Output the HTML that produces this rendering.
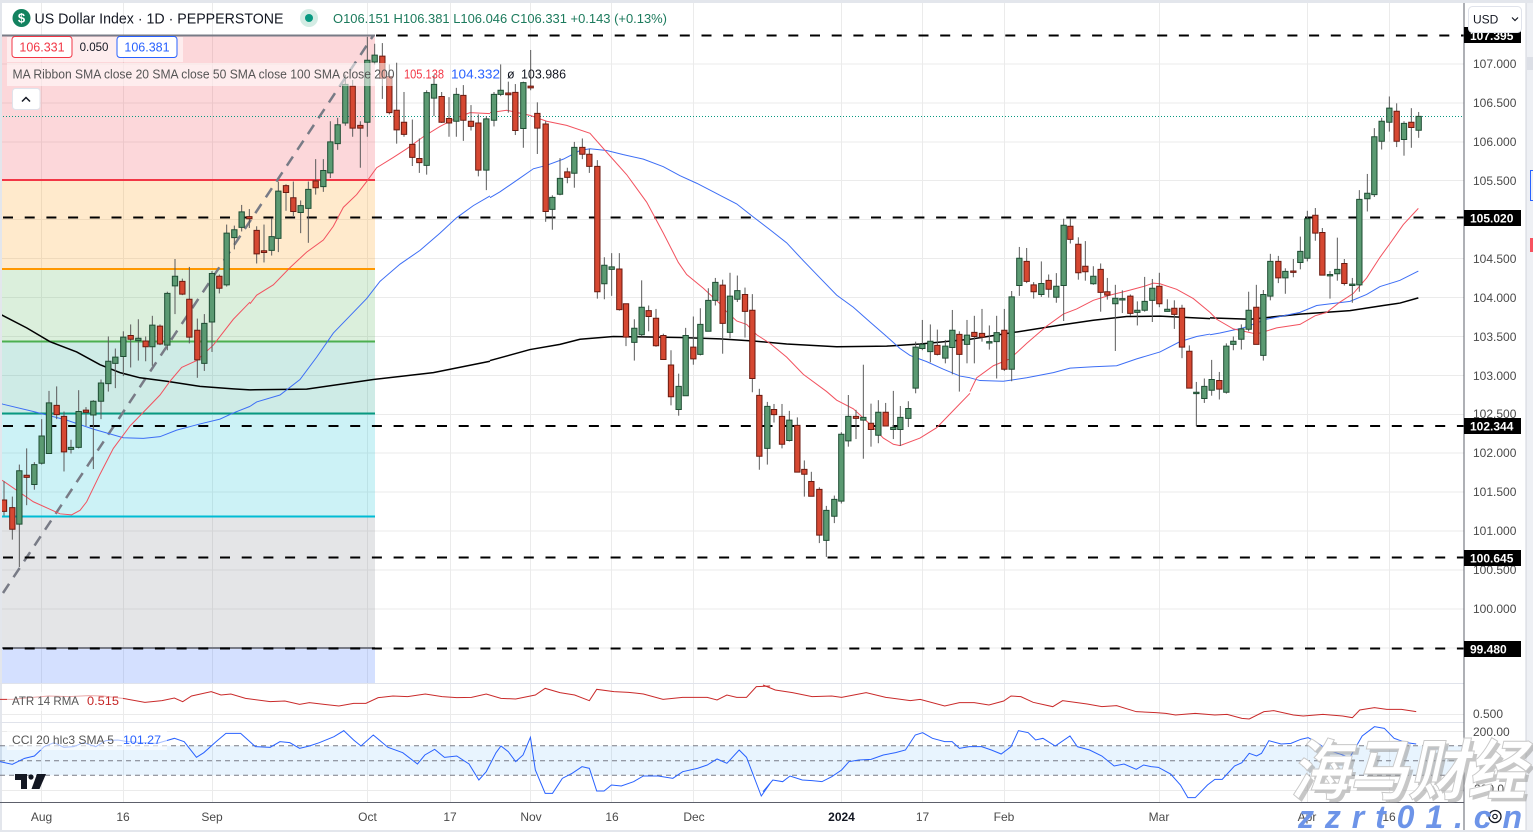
<!DOCTYPE html>
<html><head><meta charset="utf-8">
<style>
html,body{margin:0;padding:0;background:#fff;}
svg{display:block;font-family:"Liberation Sans","Noto Sans CJK SC",sans-serif;}
.w{stroke:#5a5a5a;stroke-width:1;vector-effect:non-scaling-stroke;}
.g{fill:#5b9a72;stroke:#1e4d33;stroke-width:1;vector-effect:non-scaling-stroke;}
.r{fill:#d64832;stroke:#6b1a10;stroke-width:1;vector-effect:non-scaling-stroke;}
.ma{fill:none;vector-effect:non-scaling-stroke;}
.ax{font-size:12px;fill:#4a4a4a;}
.tg{font-size:12px;fill:#fff;font-weight:bold;}
</style></head>
<body>
<svg width="1533" height="832" viewBox="0 0 1533 832" xmlns="http://www.w3.org/2000/svg">
<rect width="1533" height="832" fill="#fff"/>
<!-- grid -->
<g stroke="#ebebeb" stroke-width="1">
<line x1="0" y1="64" x2="1464" y2="64"/><line x1="0" y1="103" x2="1464" y2="103"/><line x1="0" y1="142" x2="1464" y2="142"/><line x1="0" y1="180.5" x2="1464" y2="180.5"/><line x1="0" y1="219.5" x2="1464" y2="219.5"/><line x1="0" y1="258.5" x2="1464" y2="258.5"/><line x1="0" y1="297.5" x2="1464" y2="297.5"/><line x1="0" y1="336.5" x2="1464" y2="336.5"/><line x1="0" y1="375.5" x2="1464" y2="375.5"/><line x1="0" y1="414.5" x2="1464" y2="414.5"/><line x1="0" y1="453" x2="1464" y2="453"/><line x1="0" y1="492" x2="1464" y2="492"/><line x1="0" y1="531" x2="1464" y2="531"/><line x1="0" y1="570" x2="1464" y2="570"/><line x1="0" y1="609" x2="1464" y2="609"/><line x1="0" y1="648" x2="1464" y2="648"/>
<line x1="0" y1="714.5" x2="1464" y2="714.5"/><line x1="0" y1="731.5" x2="1464" y2="731.5"/><line x1="0" y1="790.5" x2="1464" y2="790.5"/>
<line x1="41.5" y1="3" x2="41.5" y2="803"/><line x1="123.5" y1="3" x2="123.5" y2="803"/><line x1="212.5" y1="3" x2="212.5" y2="803"/><line x1="367.5" y1="3" x2="367.5" y2="803"/><line x1="450.5" y1="3" x2="450.5" y2="803"/><line x1="530.5" y1="3" x2="530.5" y2="803"/><line x1="611.5" y1="3" x2="611.5" y2="803"/><line x1="693.5" y1="3" x2="693.5" y2="803"/><line x1="841.5" y1="3" x2="841.5" y2="803"/><line x1="922.5" y1="3" x2="922.5" y2="803"/><line x1="1004.5" y1="3" x2="1004.5" y2="803"/><line x1="1159.5" y1="3" x2="1159.5" y2="803"/><line x1="1307.5" y1="3" x2="1307.5" y2="803"/><line x1="1389.5" y1="3" x2="1389.5" y2="803"/>
</g>
<!-- fib fills -->
<rect x="0" y="35" width="375" height="145" fill="rgba(242,54,69,0.2)"/>
<rect x="0" y="180" width="375" height="89" fill="rgba(255,152,0,0.2)"/>
<rect x="0" y="269" width="375" height="72.5" fill="rgba(76,175,80,0.2)"/>
<rect x="0" y="341.5" width="375" height="72" fill="rgba(8,153,129,0.2)"/>
<rect x="0" y="413.5" width="375" height="103" fill="rgba(0,188,212,0.2)"/>
<rect x="0" y="516.5" width="375" height="131.5" fill="rgba(120,123,134,0.2)"/>
<rect x="0" y="648" width="375" height="35" fill="rgba(41,98,255,0.2)"/>
<!-- fib lines -->
<line x1="0" y1="180" x2="375" y2="180" stroke="#f23645" stroke-width="2"/>
<line x1="0" y1="269" x2="375" y2="269" stroke="#ff9800" stroke-width="2"/>
<line x1="0" y1="341.5" x2="375" y2="341.5" stroke="#4caf50" stroke-width="2"/>
<line x1="0" y1="413.5" x2="375" y2="413.5" stroke="#089981" stroke-width="2"/>
<line x1="0" y1="516.5" x2="375" y2="516.5" stroke="#00bcd4" stroke-width="2"/>
<line x1="0" y1="648" x2="375" y2="648" stroke="#787b86" stroke-width="2"/>
<!-- diagonal -->
<line x1="3" y1="593" x2="373" y2="36" stroke="#787b86" stroke-width="2.5" stroke-dasharray="11 8"/>
<!-- dashed levels -->
<g stroke="#000" stroke-width="2" stroke-dasharray="10 11.7">
<line x1="376" y1="35.5" x2="1464" y2="35.5"/>
<line x1="3" y1="217.5" x2="1464" y2="217.5"/>
<line x1="3" y1="426" x2="1464" y2="426"/>
<line x1="3" y1="557.5" x2="1464" y2="557.5"/>
<line x1="3" y1="648.5" x2="1464" y2="648.5"/>
</g>
<line x1="0" y1="35.5" x2="375" y2="35.5" stroke="#787b86" stroke-width="2"/>
<!-- current price -->
<line x1="0" y1="116.5" x2="1464" y2="116.5" stroke="#089981" stroke-width="1" stroke-dasharray="1 2"/>

<!-- ZOOM5 group -->
<g transform="translate(0,30) scale(0.333333,0.344353)">
<polyline class="ma" stroke="#000" stroke-width="1.5" points="0,825 10,830 80,865 150,905 230,935 300,972 360,995 420,1010 500,1020 600,1035 700,1042 750,1045"/>
<polyline class="ma" stroke="#3d6ef5" stroke-width="1" points="0,1084 10,1087 100,1108 200,1133 280,1159 370,1184 430,1186 480,1181 530,1162 600,1144 660,1130 700,1112 750,1093"/>
<polyline class="ma" stroke="#f2525f" stroke-width="1" points="0,1305 10,1310 100,1370 180,1405 215,1408 240,1395 260,1370 300,1290 340,1215 390,1150 430,1110 480,1060 510,1020 545,980 590,960 640,915 700,840 750,790"/>
<line class="w" x1="12" y1="1310" x2="12" y2="1410"/><rect class="r" x="4" y="1365" width="16" height="33"/>
<line class="w" x1="37" y1="1355" x2="37" y2="1480"/><rect class="r" x="29" y="1387" width="16" height="63"/>
<line class="w" x1="58" y1="1262" x2="58" y2="1560"/><rect class="g" x="50" y="1280" width="16" height="155"/>
<line class="w" x1="80" y1="1215" x2="80" y2="1380"/><rect class="r" x="72" y="1293" width="16" height="6"/>
<line class="w" x1="103" y1="1255" x2="103" y2="1335"/><rect class="g" x="95" y="1262" width="16" height="58"/>
<line class="w" x1="125" y1="1130" x2="125" y2="1262"/><rect class="g" x="117" y="1179" width="16" height="79"/>
<line class="w" x1="147" y1="1048" x2="147" y2="1230"/><rect class="g" x="139" y="1083" width="16" height="147"/>
<line class="w" x1="170" y1="1035" x2="170" y2="1130"/><rect class="r" x="162" y="1090" width="16" height="27"/>
<line class="w" x1="192" y1="1108" x2="192" y2="1282"/><rect class="r" x="184" y="1122" width="16" height="103"/>
<line class="w" x1="213" y1="1190" x2="213" y2="1230"/><rect class="g" x="205" y="1212" width="16" height="6"/>
<line class="w" x1="236" y1="1046" x2="236" y2="1215"/><rect class="g" x="228" y="1108" width="16" height="104"/>
<line class="w" x1="258" y1="1095" x2="258" y2="1150"/><rect class="r" x="250" y="1104" width="16" height="6"/>
<line class="w" x1="280" y1="1075" x2="280" y2="1275"/><rect class="g" x="272" y="1078" width="16" height="40"/>
<line class="w" x1="303" y1="1015" x2="303" y2="1130"/><rect class="g" x="295" y="1025" width="16" height="53"/>
<line class="w" x1="325" y1="890" x2="325" y2="1050"/><rect class="g" x="317" y="962" width="16" height="65"/>
<line class="w" x1="346" y1="925" x2="346" y2="1040"/><rect class="g" x="338" y="950" width="16" height="18"/>
<line class="w" x1="370" y1="875" x2="370" y2="1005"/><rect class="g" x="362" y="892" width="16" height="56"/>
<line class="w" x1="392" y1="855" x2="392" y2="980"/><rect class="r" x="384" y="887" width="16" height="11"/>
<line class="w" x1="415" y1="840" x2="415" y2="960"/><rect class="g" x="407" y="895" width="16" height="7"/>
<line class="w" x1="437" y1="890" x2="437" y2="962"/><rect class="r" x="429" y="903" width="16" height="17"/>
<line class="w" x1="457" y1="830" x2="457" y2="975"/><rect class="g" x="449" y="857" width="16" height="63"/>
<line class="w" x1="480" y1="855" x2="480" y2="915"/><rect class="r" x="472" y="860" width="16" height="52"/>
<line class="w" x1="502" y1="760" x2="502" y2="930"/><rect class="g" x="494" y="765" width="16" height="150"/>
<line class="w" x1="525" y1="665" x2="525" y2="825"/><rect class="g" x="517" y="715" width="16" height="28"/>
<line class="w" x1="547" y1="722" x2="547" y2="770"/><rect class="r" x="539" y="730" width="16" height="37"/>
<line class="w" x1="568" y1="688" x2="568" y2="910"/><rect class="r" x="560" y="782" width="16" height="110"/>
<line class="w" x1="592" y1="838" x2="592" y2="1010"/><rect class="r" x="584" y="872" width="16" height="86"/>
<line class="w" x1="613" y1="825" x2="613" y2="990"/><rect class="g" x="605" y="852" width="16" height="116"/>
<line class="w" x1="636" y1="700" x2="636" y2="935"/><rect class="g" x="628" y="707" width="16" height="141"/>
<line class="w" x1="658" y1="710" x2="658" y2="765"/><rect class="r" x="650" y="715" width="16" height="35"/>
<line class="w" x1="680" y1="565" x2="680" y2="745"/><rect class="g" x="672" y="590" width="16" height="150"/>
<line class="w" x1="703" y1="568" x2="703" y2="637"/><rect class="g" x="695" y="580" width="16" height="23"/>
<line class="w" x1="725" y1="508" x2="725" y2="585"/><rect class="g" x="717" y="528" width="16" height="45"/>
</g>

<!-- ZOOM6 group -->
<g transform="translate(240,30) scale(0.333333,0.344353)">
<polyline class="ma" stroke="#000" stroke-width="1.5" points="30,1045 200,1043 400,1015 580,995 750,962"/>
<polyline class="ma" stroke="#3d6ef5" stroke-width="1" points="30,1093 50,1080 120,1060 180,1015 230,950 280,880 330,830 380,780 420,730 480,680 540,640 600,590 650,545 700,510 750,482"/>
<polyline class="ma" stroke="#f2525f" stroke-width="1" points="30,795 50,770 100,740 150,690 200,645 250,610 280,570 310,515 350,478 380,440 410,400 460,370 500,345 550,310 600,280 650,255 690,240 750,243"/>
<line class="w" x1="28" y1="520" x2="28" y2="575"/><rect class="r" x="20" y="542" width="16" height="6"/>
<line class="w" x1="50" y1="570" x2="50" y2="678"/><rect class="r" x="42" y="582" width="16" height="68"/>
<line class="w" x1="72" y1="565" x2="72" y2="675"/><rect class="r" x="64" y="641" width="16" height="5"/>
<line class="w" x1="95" y1="548" x2="95" y2="655"/><rect class="g" x="87" y="600" width="16" height="40"/>
<line class="w" x1="115" y1="440" x2="115" y2="645"/><rect class="g" x="107" y="468" width="16" height="137"/>
<line class="w" x1="138" y1="448" x2="138" y2="525"/><rect class="r" x="130" y="452" width="16" height="20"/>
<line class="w" x1="160" y1="440" x2="160" y2="540"/><rect class="r" x="152" y="487" width="16" height="40"/>
<line class="w" x1="182" y1="495" x2="182" y2="590"/><rect class="g" x="174" y="510" width="16" height="20"/>
<line class="w" x1="205" y1="440" x2="205" y2="618"/><rect class="g" x="197" y="463" width="16" height="55"/>
<line class="w" x1="227" y1="375" x2="227" y2="478"/><rect class="r" x="219" y="438" width="16" height="20"/>
<line class="w" x1="250" y1="375" x2="250" y2="470"/><rect class="g" x="242" y="408" width="16" height="47"/>
<line class="w" x1="271" y1="265" x2="271" y2="430"/><rect class="g" x="263" y="325" width="16" height="90"/>
<line class="w" x1="293" y1="255" x2="293" y2="348"/><rect class="g" x="285" y="275" width="16" height="55"/>
<line class="w" x1="316" y1="130" x2="316" y2="278"/><rect class="g" x="308" y="158" width="16" height="112"/>
<line class="w" x1="338" y1="145" x2="338" y2="310"/><rect class="r" x="330" y="163" width="16" height="122"/>
<line class="w" x1="361" y1="265" x2="361" y2="400"/><rect class="r" x="353" y="277" width="16" height="8"/>
<line class="w" x1="382" y1="20" x2="382" y2="310"/><rect class="g" x="374" y="88" width="16" height="180"/>
<line class="w" x1="404" y1="40" x2="404" y2="100"/><rect class="g" x="396" y="73" width="16" height="20"/>
<line class="w" x1="427" y1="38" x2="427" y2="200"/><rect class="r" x="419" y="76" width="16" height="64"/>
<line class="w" x1="448" y1="100" x2="448" y2="245"/><rect class="r" x="440" y="135" width="16" height="105"/>
<line class="w" x1="470" y1="95" x2="470" y2="330"/><rect class="r" x="462" y="233" width="16" height="57"/>
<line class="w" x1="492" y1="180" x2="492" y2="310"/><rect class="r" x="484" y="268" width="16" height="35"/>
<line class="w" x1="517" y1="260" x2="517" y2="395"/><rect class="r" x="509" y="332" width="16" height="38"/>
<line class="w" x1="538" y1="315" x2="538" y2="415"/><rect class="r" x="530" y="373" width="16" height="12"/>
<line class="w" x1="560" y1="175" x2="560" y2="420"/><rect class="g" x="552" y="182" width="16" height="211"/>
<line class="w" x1="582" y1="130" x2="582" y2="250"/><rect class="g" x="574" y="158" width="16" height="40"/>
<line class="w" x1="605" y1="180" x2="605" y2="270"/><rect class="r" x="597" y="193" width="16" height="75"/>
<line class="w" x1="627" y1="195" x2="627" y2="310"/><rect class="r" x="619" y="257" width="16" height="13"/>
<line class="w" x1="649" y1="168" x2="649" y2="310"/><rect class="g" x="641" y="187" width="16" height="78"/>
<line class="w" x1="670" y1="160" x2="670" y2="322"/><rect class="r" x="662" y="190" width="16" height="72"/>
<line class="w" x1="693" y1="218" x2="693" y2="292"/><rect class="r" x="685" y="265" width="16" height="15"/>
<line class="w" x1="715" y1="245" x2="715" y2="425"/><rect class="r" x="707" y="270" width="16" height="137"/>
<line class="w" x1="739" y1="250" x2="739" y2="465"/><rect class="g" x="731" y="258" width="16" height="149"/>
</g>

<!-- ZOOM7 group -->
<g transform="translate(480,30) scale(0.333333,0.344353)">
<polyline class="ma" stroke="#000" stroke-width="1.5" points="30,960 150,928 240,913 300,898 400,890 600,893 720,897"/>
<polyline class="ma" stroke="#3d6ef5" stroke-width="1" points="30,487 60,470 120,430 160,403 200,393 250,375 300,350 330,345 380,350 430,362 490,375 550,397 600,423 650,445 700,470 720,480"/>
<polyline class="ma" stroke="#f2525f" stroke-width="1" points="30,240 80,233 150,248 200,265 260,277 330,300 380,355 440,420 500,500 550,590 595,675 620,710 670,750 720,795"/>
<line class="w" x1="42" y1="180" x2="42" y2="280"/><rect class="g" x="34" y="187" width="16" height="75"/>
<line class="w" x1="62" y1="100" x2="62" y2="192"/><rect class="g" x="54" y="175" width="16" height="12"/>
<line class="w" x1="85" y1="150" x2="85" y2="240"/><rect class="r" x="77" y="183" width="16" height="5"/>
<line class="w" x1="106" y1="157" x2="106" y2="305"/><rect class="r" x="98" y="181" width="16" height="111"/>
<line class="w" x1="130" y1="150" x2="130" y2="342"/><rect class="g" x="122" y="153" width="16" height="133"/>
<line class="w" x1="152" y1="58" x2="152" y2="175"/><rect class="r" x="144" y="163" width="16" height="5"/>
<line class="w" x1="172" y1="210" x2="172" y2="360"/><rect class="r" x="164" y="242" width="16" height="43"/>
<line class="w" x1="197" y1="265" x2="197" y2="557"/><rect class="r" x="189" y="273" width="16" height="254"/>
<line class="w" x1="217" y1="480" x2="217" y2="580"/><rect class="g" x="209" y="486" width="16" height="35"/>
<line class="w" x1="240" y1="372" x2="240" y2="480"/><rect class="g" x="232" y="431" width="16" height="46"/>
<line class="w" x1="262" y1="400" x2="262" y2="445"/><rect class="r" x="254" y="412" width="16" height="16"/>
<line class="w" x1="283" y1="325" x2="283" y2="458"/><rect class="g" x="275" y="341" width="16" height="75"/>
<line class="w" x1="307" y1="315" x2="307" y2="375"/><rect class="r" x="299" y="341" width="16" height="20"/>
<line class="w" x1="328" y1="345" x2="328" y2="415"/><rect class="r" x="320" y="361" width="16" height="35"/>
<line class="w" x1="352" y1="378" x2="352" y2="780"/><rect class="r" x="344" y="396" width="16" height="364"/>
<line class="w" x1="373" y1="660" x2="373" y2="782"/><rect class="g" x="365" y="683" width="16" height="54"/>
<line class="w" x1="395" y1="648" x2="395" y2="772"/><rect class="g" x="387" y="688" width="16" height="7"/>
<line class="w" x1="418" y1="648" x2="418" y2="815"/><rect class="r" x="410" y="694" width="16" height="118"/>
<line class="w" x1="438" y1="795" x2="438" y2="918"/><rect class="r" x="430" y="795" width="16" height="97"/>
<line class="w" x1="463" y1="840" x2="463" y2="960"/><rect class="g" x="455" y="866" width="16" height="41"/>
<line class="w" x1="485" y1="727" x2="485" y2="890"/><rect class="g" x="477" y="805" width="16" height="80"/>
<line class="w" x1="506" y1="800" x2="506" y2="875"/><rect class="r" x="498" y="815" width="16" height="17"/>
<line class="w" x1="528" y1="810" x2="528" y2="920"/><rect class="r" x="520" y="837" width="16" height="80"/>
<line class="w" x1="550" y1="882" x2="550" y2="957"/><rect class="r" x="542" y="887" width="16" height="70"/>
<line class="w" x1="573" y1="930" x2="573" y2="1090"/><rect class="r" x="565" y="973" width="16" height="92"/>
<line class="w" x1="596" y1="998" x2="596" y2="1120"/><rect class="g" x="588" y="1035" width="16" height="67"/>
<line class="w" x1="617" y1="865" x2="617" y2="1062"/><rect class="g" x="609" y="887" width="16" height="175"/>
<line class="w" x1="640" y1="832" x2="640" y2="972"/><rect class="r" x="632" y="921" width="16" height="34"/>
<line class="w" x1="661" y1="808" x2="661" y2="945"/><rect class="g" x="653" y="855" width="16" height="87"/>
<line class="w" x1="685" y1="750" x2="685" y2="875"/><rect class="g" x="677" y="785" width="16" height="90"/>
<line class="w" x1="706" y1="720" x2="706" y2="800"/><rect class="g" x="698" y="733" width="16" height="52"/>
</g>

<!-- ZOOM8 group -->
<g transform="translate(720,30) scale(0.333333,0.344353)">
<polyline class="ma" stroke="#000" stroke-width="1.5" points="0,897 100,903 200,912 350,920 500,918 600,912 750,898"/>
<polyline class="ma" stroke="#3d6ef5" stroke-width="1" points="0,480 50,505 100,543 150,580 200,618 250,670 300,720 350,770 400,805 450,848 500,890 540,925 570,945 620,963 670,985 720,1005 750,1010"/>
<polyline class="ma" stroke="#f2525f" stroke-width="1" points="0,800 50,845 80,855 110,885 150,910 200,950 250,1000 320,1050 350,1075 400,1100 450,1145 490,1185 520,1203 540,1207 600,1185 650,1155 700,1105 750,1055"/>
<line class="w" x1="8" y1="725" x2="8" y2="940"/><rect class="r" x="0" y="741" width="16" height="111"/>
<line class="w" x1="30" y1="705" x2="30" y2="895"/><rect class="g" x="22" y="773" width="16" height="105"/>
<line class="w" x1="52" y1="713" x2="52" y2="790"/><rect class="g" x="44" y="757" width="16" height="25"/>
<line class="w" x1="75" y1="748" x2="75" y2="893"/><rect class="r" x="67" y="768" width="16" height="49"/>
<line class="w" x1="97" y1="767" x2="97" y2="1052"/><rect class="r" x="89" y="814" width="16" height="198"/>
<line class="w" x1="118" y1="1042" x2="118" y2="1277"/><rect class="r" x="110" y="1061" width="16" height="177"/>
<line class="w" x1="142" y1="1080" x2="142" y2="1262"/><rect class="g" x="134" y="1093" width="16" height="122"/>
<line class="w" x1="162" y1="1086" x2="162" y2="1140"/><rect class="r" x="154" y="1102" width="16" height="15"/>
<line class="w" x1="186" y1="1086" x2="186" y2="1215"/><rect class="r" x="178" y="1122" width="16" height="81"/>
<line class="w" x1="208" y1="1106" x2="208" y2="1195"/><rect class="g" x="200" y="1133" width="16" height="59"/>
<line class="w" x1="232" y1="1125" x2="232" y2="1284"/><rect class="r" x="224" y="1148" width="16" height="136"/>
<line class="w" x1="253" y1="1250" x2="253" y2="1355"/><rect class="r" x="245" y="1276" width="16" height="14"/>
<line class="w" x1="274" y1="1283" x2="274" y2="1354"/><rect class="r" x="266" y="1311" width="16" height="43"/>
<line class="w" x1="298" y1="1328" x2="298" y2="1490"/><rect class="r" x="290" y="1334" width="16" height="133"/>
<line class="w" x1="319" y1="1382" x2="319" y2="1530"/><rect class="g" x="311" y="1395" width="16" height="87"/>
<line class="w" x1="343" y1="1352" x2="343" y2="1432"/><rect class="g" x="335" y="1363" width="16" height="49"/>
<line class="w" x1="364" y1="1168" x2="364" y2="1375"/><rect class="g" x="356" y="1174" width="16" height="194"/>
<line class="w" x1="385" y1="1060" x2="385" y2="1210"/><rect class="g" x="377" y="1122" width="16" height="71"/>
<line class="w" x1="408" y1="1103" x2="408" y2="1188"/><rect class="r" x="400" y="1122" width="16" height="6"/>
<line class="w" x1="430" y1="972" x2="430" y2="1245"/><rect class="g" x="422" y="1125" width="16" height="8"/>
<line class="w" x1="453" y1="1085" x2="453" y2="1210"/><rect class="r" x="445" y="1142" width="16" height="18"/>
<line class="w" x1="475" y1="1075" x2="475" y2="1200"/><rect class="g" x="467" y="1110" width="16" height="67"/>
<line class="w" x1="497" y1="1083" x2="497" y2="1150"/><rect class="r" x="489" y="1110" width="16" height="40"/>
<line class="w" x1="520" y1="1048" x2="520" y2="1188"/><rect class="g" x="512" y="1154" width="16" height="6"/>
<line class="w" x1="541" y1="1092" x2="541" y2="1208"/><rect class="g" x="533" y="1125" width="16" height="35"/>
<line class="w" x1="565" y1="1078" x2="565" y2="1153"/><rect class="g" x="557" y="1099" width="16" height="29"/>
<line class="w" x1="587" y1="905" x2="587" y2="1055"/><rect class="g" x="579" y="921" width="16" height="119"/>
<line class="w" x1="607" y1="842" x2="607" y2="930"/><rect class="g" x="599" y="913" width="16" height="12"/>
<line class="w" x1="631" y1="855" x2="631" y2="965"/><rect class="g" x="623" y="904" width="16" height="30"/>
<line class="w" x1="652" y1="870" x2="652" y2="945"/><rect class="r" x="644" y="916" width="16" height="26"/>
<line class="w" x1="676" y1="900" x2="676" y2="968"/><rect class="g" x="668" y="918" width="16" height="35"/>
<line class="w" x1="697" y1="813" x2="697" y2="1000"/><rect class="g" x="689" y="872" width="16" height="50"/>
<line class="w" x1="718" y1="875" x2="718" y2="1050"/><rect class="r" x="710" y="884" width="16" height="58"/>
<line class="w" x1="741" y1="842" x2="741" y2="968"/><rect class="g" x="733" y="886" width="16" height="27"/>
</g>

<!-- ZOOM9 group -->
<g transform="translate(960,30) scale(0.333333,0.344353)">
<polyline class="ma" stroke="#000" stroke-width="1.5" points="30,898 150,880 300,857 400,843 500,832 600,831 750,838"/>
<polyline class="ma" stroke="#3d6ef5" stroke-width="1" points="30,1010 60,1018 130,1020 200,1010 280,995 330,982 400,978 470,975 530,955 600,935 660,905 710,890 750,883"/>
<polyline class="ma" stroke="#f2525f" stroke-width="1" points="30,1050 50,1010 100,975 150,955 200,910 260,860 310,825 350,810 400,785 450,770 500,758 550,745 580,735 600,737 650,753 700,780 750,820"/>
<line class="w" x1="43" y1="830" x2="43" y2="968"/><rect class="r" x="35" y="878" width="16" height="12"/>
<line class="w" x1="66" y1="810" x2="66" y2="905"/><rect class="r" x="58" y="881" width="16" height="11"/>
<line class="w" x1="88" y1="858" x2="88" y2="928"/><rect class="g" x="80" y="905" width="16" height="4"/>
<line class="w" x1="110" y1="830" x2="110" y2="1012"/><rect class="g" x="102" y="879" width="16" height="26"/>
<line class="w" x1="133" y1="810" x2="133" y2="990"/><rect class="r" x="125" y="872" width="16" height="113"/>
<line class="w" x1="155" y1="758" x2="155" y2="1020"/><rect class="g" x="147" y="775" width="16" height="210"/>
<line class="w" x1="178" y1="630" x2="178" y2="772"/><rect class="g" x="170" y="663" width="16" height="79"/>
<line class="w" x1="200" y1="633" x2="200" y2="735"/><rect class="r" x="192" y="672" width="16" height="58"/>
<line class="w" x1="221" y1="732" x2="221" y2="780"/><rect class="r" x="213" y="740" width="16" height="20"/>
<line class="w" x1="244" y1="672" x2="244" y2="775"/><rect class="g" x="236" y="736" width="16" height="32"/>
<line class="w" x1="266" y1="710" x2="266" y2="777"/><rect class="r" x="258" y="727" width="16" height="26"/>
<line class="w" x1="289" y1="706" x2="289" y2="792"/><rect class="g" x="281" y="744" width="16" height="32"/>
<line class="w" x1="311" y1="548" x2="311" y2="845"/><rect class="g" x="303" y="567" width="16" height="175"/>
<line class="w" x1="331" y1="548" x2="331" y2="620"/><rect class="r" x="323" y="570" width="16" height="38"/>
<line class="w" x1="355" y1="602" x2="355" y2="725"/><rect class="r" x="347" y="622" width="16" height="83"/>
<line class="w" x1="376" y1="613" x2="376" y2="728"/><rect class="r" x="368" y="686" width="16" height="16"/>
<line class="w" x1="400" y1="686" x2="400" y2="740"/><rect class="g" x="392" y="715" width="16" height="22"/>
<line class="w" x1="422" y1="678" x2="422" y2="818"/><rect class="r" x="414" y="695" width="16" height="67"/>
<line class="w" x1="442" y1="720" x2="442" y2="783"/><rect class="r" x="434" y="760" width="16" height="10"/>
<line class="w" x1="466" y1="740" x2="466" y2="932"/><rect class="g" x="458" y="779" width="16" height="16"/>
<line class="w" x1="487" y1="756" x2="487" y2="822"/><rect class="g" x="479" y="780" width="16" height="4"/>
<line class="w" x1="511" y1="768" x2="511" y2="830"/><rect class="r" x="503" y="773" width="16" height="50"/>
<line class="w" x1="532" y1="788" x2="532" y2="858"/><rect class="g" x="524" y="814" width="16" height="6"/>
<line class="w" x1="554" y1="717" x2="554" y2="818"/><rect class="g" x="546" y="788" width="16" height="26"/>
<line class="w" x1="577" y1="723" x2="577" y2="848"/><rect class="g" x="569" y="750" width="16" height="35"/>
<line class="w" x1="598" y1="705" x2="598" y2="805"/><rect class="r" x="590" y="744" width="16" height="51"/>
<line class="w" x1="622" y1="782" x2="622" y2="818"/><rect class="g" x="614" y="811" width="16" height="6"/>
<line class="w" x1="643" y1="785" x2="643" y2="868"/><rect class="r" x="635" y="808" width="16" height="18"/>
<line class="w" x1="666" y1="798" x2="666" y2="953"/><rect class="r" x="658" y="808" width="16" height="113"/>
<line class="w" x1="688" y1="916" x2="688" y2="1040"/><rect class="r" x="680" y="933" width="16" height="107"/>
<line class="w" x1="709" y1="1022" x2="709" y2="1150"/><rect class="g" x="701" y="1052" width="16" height="4"/>
<line class="w" x1="733" y1="1012" x2="733" y2="1083"/><rect class="g" x="725" y="1035" width="16" height="35"/>
</g>

<!-- ZOOM10 group -->
<g transform="translate(1200,30) scale(0.333333,0.344353)">
<polyline class="ma" stroke="#000" stroke-width="1.5" points="30,836 150,840 300,825 450,815 550,800 600,793 655,778"/>
<polyline class="ma" stroke="#3d6ef5" stroke-width="1" points="30,885 60,880 130,865 200,840 300,820 350,800 450,788 500,768 540,745 600,727 655,700"/>
<polyline class="ma" stroke="#f2525f" stroke-width="1" points="30,820 50,840 100,868 170,883 230,865 300,855 345,830 380,820 420,790 460,765 500,720 540,660 570,620 610,565 655,518"/>
<line class="w" x1="35" y1="958" x2="35" y2="1062"/><rect class="g" x="27" y="1015" width="16" height="31"/>
<line class="w" x1="58" y1="993" x2="58" y2="1073"/><rect class="r" x="50" y="1018" width="16" height="25"/>
<line class="w" x1="79" y1="910" x2="79" y2="1056"/><rect class="g" x="71" y="918" width="16" height="134"/>
<line class="w" x1="100" y1="890" x2="100" y2="930"/><rect class="g" x="92" y="904" width="16" height="9"/>
<line class="w" x1="124" y1="855" x2="124" y2="928"/><rect class="g" x="116" y="868" width="16" height="30"/>
<line class="w" x1="146" y1="760" x2="146" y2="875"/><rect class="g" x="138" y="814" width="16" height="55"/>
<line class="w" x1="169" y1="740" x2="169" y2="913"/><rect class="r" x="161" y="805" width="16" height="108"/>
<line class="w" x1="190" y1="755" x2="190" y2="960"/><rect class="g" x="182" y="768" width="16" height="177"/>
<line class="w" x1="211" y1="650" x2="211" y2="785"/><rect class="g" x="203" y="672" width="16" height="101"/>
<line class="w" x1="235" y1="656" x2="235" y2="735"/><rect class="r" x="227" y="672" width="16" height="48"/>
<line class="w" x1="256" y1="692" x2="256" y2="766"/><rect class="g" x="248" y="701" width="16" height="19"/>
<line class="w" x1="280" y1="665" x2="280" y2="718"/><rect class="r" x="272" y="700" width="16" height="4"/>
<line class="w" x1="301" y1="600" x2="301" y2="695"/><rect class="g" x="293" y="643" width="16" height="32"/>
<line class="w" x1="322" y1="525" x2="322" y2="672"/><rect class="g" x="314" y="548" width="16" height="115"/>
<line class="w" x1="346" y1="517" x2="346" y2="612"/><rect class="r" x="338" y="538" width="16" height="52"/>
<line class="w" x1="367" y1="575" x2="367" y2="712"/><rect class="r" x="359" y="588" width="16" height="124"/>
<line class="w" x1="390" y1="700" x2="390" y2="780"/><rect class="g" x="382" y="710" width="16" height="4"/>
<line class="w" x1="412" y1="603" x2="412" y2="728"/><rect class="g" x="404" y="695" width="16" height="13"/>
<line class="w" x1="433" y1="665" x2="433" y2="742"/><rect class="r" x="425" y="678" width="16" height="58"/>
<line class="w" x1="457" y1="720" x2="457" y2="792"/><rect class="g" x="449" y="738" width="16" height="4"/>
<line class="w" x1="478" y1="465" x2="478" y2="760"/><rect class="g" x="470" y="492" width="16" height="248"/>
<line class="w" x1="502" y1="418" x2="502" y2="527"/><rect class="g" x="494" y="474" width="16" height="16"/>
<line class="w" x1="523" y1="285" x2="523" y2="485"/><rect class="g" x="515" y="310" width="16" height="168"/>
<line class="w" x1="545" y1="255" x2="545" y2="347"/><rect class="g" x="537" y="265" width="16" height="58"/>
<line class="w" x1="568" y1="193" x2="568" y2="295"/><rect class="g" x="560" y="227" width="16" height="41"/>
<line class="w" x1="590" y1="213" x2="590" y2="340"/><rect class="r" x="582" y="236" width="16" height="87"/>
<line class="w" x1="612" y1="265" x2="612" y2="365"/><rect class="g" x="604" y="271" width="16" height="47"/>
<line class="w" x1="634" y1="227" x2="634" y2="342"/><rect class="r" x="626" y="268" width="16" height="15"/>
<line class="w" x1="656" y1="238" x2="656" y2="313"/><rect class="g" x="648" y="251" width="16" height="40"/>
</g>

<!-- header -->
<rect x="0" y="0" width="1533" height="3" fill="#e3e6ec"/>
<rect x="0" y="0" width="2" height="832" fill="#e3e6ec"/>
<circle cx="21.5" cy="18" r="9" fill="#13825f"/>
<text x="21.5" y="22.5" font-size="13" font-weight="bold" fill="#fff" text-anchor="middle">$</text>
<text x="34.5" y="23.5" font-size="15" fill="#131722" textLength="249" lengthAdjust="spacingAndGlyphs">US Dollar Index · 1D · PEPPERSTONE</text>
<circle cx="309" cy="18" r="9" fill="#d3ece4"/>
<circle cx="309" cy="18" r="4" fill="#089981"/>
<text x="333" y="23" font-size="13" fill="#1b7a5c" textLength="334" lengthAdjust="spacingAndGlyphs">O106.151 H106.381 L106.046 C106.331 +0.143 (+0.13%)</text>

<!-- price boxes row -->
<rect x="7" y="37" width="176" height="25" fill="rgba(255,255,255,0.55)"/>
<rect x="12" y="36.5" width="60" height="21" rx="3" fill="#fff" stroke="#f23645" stroke-width="1"/>
<text x="42" y="51.5" font-size="12.5" fill="#f23645" text-anchor="middle">106.331</text>
<text x="94" y="51" font-size="11.5" fill="#131722" text-anchor="middle">0.050</text>
<rect x="117" y="36.5" width="60" height="21" rx="3" fill="#fff" stroke="#2962ff" stroke-width="1"/>
<text x="147" y="51.5" font-size="12.5" fill="#2962ff" text-anchor="middle">106.381</text>
<!-- legend row -->
<rect x="7" y="63" width="389" height="23" fill="rgba(255,255,255,0.55)"/>
<text x="12.5" y="78.5" font-size="12.5" fill="#555" textLength="382" lengthAdjust="spacingAndGlyphs">MA Ribbon SMA close 20 SMA close 50 SMA close 100 SMA close 200</text>
<text x="404" y="78.5" font-size="12.5" fill="#f23645" textLength="40" lengthAdjust="spacingAndGlyphs">105.138</text>
<text x="451" y="78.5" font-size="12.5" fill="#2962ff" textLength="49" lengthAdjust="spacingAndGlyphs">104.332</text>
<text x="507" y="78.5" font-size="12.5" fill="#131722">ø</text>
<text x="521" y="78.5" font-size="12.5" fill="#131722" textLength="45" lengthAdjust="spacingAndGlyphs">103.986</text>
<rect x="12.5" y="88.5" width="27.5" height="21" rx="3" fill="#fff" stroke="#e0e3eb"/>
<path d="M22 101.5 L26 97.5 L30 101.5" fill="none" stroke="#131722" stroke-width="1.5"/>

<!-- pane separators -->
<line x1="0" y1="683.5" x2="1533" y2="683.5" stroke="#e0e3eb" stroke-width="1"/>
<line x1="0" y1="722.5" x2="1533" y2="722.5" stroke="#e0e3eb" stroke-width="1"/>

<!-- CCI band -->
<rect x="0" y="745.7" width="1464" height="29.6" fill="rgba(33,150,243,0.1)"/>
<g stroke="#787b86" stroke-width="1" stroke-dasharray="5 4">
<line x1="0" y1="745.7" x2="1464" y2="745.7"/><line x1="0" y1="760.7" x2="1464" y2="760.7"/><line x1="0" y1="775.3" x2="1464" y2="775.3"/>
</g>
<!-- ATR/CCI lines -->
<g transform="translate(0,670) scale(0.491136,0.333333)">
<polyline class="ma" stroke="#c92a2a" stroke-width="1" points="0,88 25,88 60,83 100,78 140,80 180,77 210,78 250,85 295,97 330,92 355,84 372,95 390,78 430,65 450,75 470,72 500,85 550,95 580,93 610,103 630,98 660,103 690,108 720,100 745,100 770,83 800,78 830,80 866,72 900,80 930,83 960,82 990,72 1020,85 1050,87 1090,75 1110,55 1140,68 1170,75 1200,92 1215,58 1250,65 1280,67 1310,72 1350,88 1390,82 1440,82 1460,90 1480,75 1500,82 1520,82 1540,50 1568,48"/>
<polyline class="ma" stroke="#2962ff" stroke-width="1" points="0,275 25,283 50,265 70,258 90,230 110,218 130,232 150,230 170,218 195,230 215,212 240,210 260,215 290,218 320,220 355,205 375,215 400,262 415,248 440,215 460,190 490,190 520,230 550,232 570,215 590,218 610,235 630,228 650,218 680,200 700,182 720,210 735,228 760,195 790,232 820,248 850,282 865,255 885,238 905,262 930,258 955,282 975,330 990,305 1010,248 1020,228 1035,245 1050,275 1065,255 1080,202 1090,300 1110,370 1125,370 1145,325 1165,310 1185,290 1200,295 1215,363 1230,363 1245,345 1265,348 1290,335 1310,318 1340,318 1370,325 1390,305 1420,295 1440,285 1460,267 1480,280 1505,240 1520,262 1550,378 1568,340"/>
</g>
<g transform="translate(763,670) scale(0.491136,0.333333)">
<polyline class="ma" stroke="#c92a2a" stroke-width="1" points="0,45 25,60 60,68 100,80 140,78 160,82 185,75 210,68 250,82 300,92 320,88 370,108 400,98 430,98 460,105 490,93 505,78 525,80 550,97 590,110 610,92 660,102 690,110 720,107 760,125 800,128 820,130 840,135 880,130 920,135 945,133 975,145 990,147 1020,125 1040,122 1080,135 1100,138 1140,133 1180,138 1200,143 1215,120 1245,113 1270,118 1300,118 1330,125"/>
<polyline class="ma" stroke="#2962ff" stroke-width="1" points="0,365 20,330 40,335 55,318 80,330 100,332 120,335 140,320 160,300 175,275 195,270 220,268 245,255 270,248 290,240 310,195 325,188 345,205 370,215 385,215 400,235 420,230 445,230 465,240 485,252 505,230 520,182 540,188 555,210 570,205 595,228 625,198 640,230 665,240 690,258 715,288 735,282 760,298 775,285 790,290 805,292 830,312 850,345 865,383 880,383 905,345 920,328 935,328 960,288 975,278 990,250 1005,258 1015,250 1030,212 1055,222 1075,220 1095,208 1110,203 1125,215 1150,240 1170,250 1195,262 1220,198 1245,170 1265,175 1285,205 1310,218 1330,222"/>
</g>
<!-- sub-pane labels -->
<rect x="7" y="692" width="116" height="19" fill="rgba(255,255,255,0.6)"/>
<text x="12" y="705" font-size="12" fill="#555" textLength="67" lengthAdjust="spacingAndGlyphs">ATR 14 RMA</text>
<text x="87" y="705" font-size="12" fill="#c62828" textLength="32" lengthAdjust="spacingAndGlyphs">0.515</text>
<rect x="7" y="731" width="160" height="19" fill="rgba(255,255,255,0.6)"/>
<text x="12" y="744" font-size="12" fill="#555" textLength="102" lengthAdjust="spacingAndGlyphs">CCI 20 hlc3 SMA 5</text>
<text x="123" y="744" font-size="12" fill="#2962ff" textLength="38" lengthAdjust="spacingAndGlyphs">101.27</text>
<!-- TV logo -->
<path d="M15 774 H27 V789 H21 V780 H15 Z" fill="#131722"/>
<circle cx="31" cy="777" r="2.6" fill="#131722"/>
<path d="M37 774 H46 L39.5 789 H31.5 Z" fill="#131722"/>

<!-- time axis -->
<line x1="0" y1="802.5" x2="1464" y2="802.5" stroke="#5d606b" stroke-width="1"/>
<g class="ax" text-anchor="middle">
<text x="41.5" y="821">Aug</text><text x="123" y="821">16</text><text x="212" y="821">Sep</text><text x="367.5" y="821">Oct</text><text x="450" y="821">17</text><text x="531" y="821">Nov</text><text x="612" y="821">16</text><text x="694" y="821">Dec</text><text x="841.5" y="821" font-weight="bold" fill="#131722">2024</text><text x="922.5" y="821">17</text><text x="1004" y="821">Feb</text><text x="1159" y="821">Mar</text><text x="1307" y="821">Apr</text><text x="1389" y="821">16</text>
</g>
<rect x="0" y="830" width="1533" height="2" fill="#e3e6ec"/>

<!-- price axis -->
<rect x="1464" y="3" width="62" height="827" fill="#fff"/>
<line x1="1464" y1="3" x2="1464" y2="830" stroke="#5d606b" stroke-width="1"/>
<g class="ax">
<text x="1473" y="68">107.000</text><text x="1473" y="107">106.500</text><text x="1473" y="146">106.000</text><text x="1473" y="185">105.500</text><text x="1473" y="263">104.500</text><text x="1473" y="302">104.000</text><text x="1473" y="341">103.500</text><text x="1473" y="380">103.000</text><text x="1473" y="418">102.500</text><text x="1473" y="457">102.000</text><text x="1473" y="496">101.500</text><text x="1473" y="535">101.000</text><text x="1473" y="574">100.500</text><text x="1473" y="613">100.000</text>
<text x="1473" y="718">0.500</text><text x="1473" y="736">200.00</text><text x="1470" y="793">-200.00</text>
</g>
<rect x="1464" y="27" width="57" height="16" fill="#000"/><text class="tg" x="1470" y="40">107.395</text>
<rect x="1464" y="210" width="57" height="16" fill="#000"/><text class="tg" x="1470" y="222.5">105.020</text>
<rect x="1464" y="418" width="57" height="16" fill="#000"/><text class="tg" x="1470" y="430.5">102.344</text>
<rect x="1464" y="550" width="57" height="16" fill="#000"/><text class="tg" x="1470" y="562.5">100.645</text>
<rect x="1464" y="641" width="57" height="16" fill="#000"/><text class="tg" x="1470" y="653.5">99.480</text>
<rect x="1468.5" y="6.5" width="53" height="26" rx="4" fill="#fff" stroke="#e0e3eb"/>
<text x="1473" y="23.5" font-size="12" fill="#131722">USD</text>
<path d="M1512 17.5 L1515 20.5 L1518 17.5" fill="none" stroke="#131722" stroke-width="1.2"/>
<!-- right strip -->
<rect x="1526" y="3" width="7" height="827" fill="#eef0f4"/>
<line x1="1526" y1="3" x2="1526" y2="830" stroke="#d1d4dc"/>
<rect x="1527" y="57" width="6" height="13" fill="#dcdfe6"/>
<rect x="1530.5" y="170.5" width="3" height="30" fill="none" stroke="#2962ff"/>
<rect x="1530" y="238" width="3" height="14" fill="#f7525f"/>
<!-- gear -->
<circle cx="1495" cy="816.5" r="6" fill="none" stroke="#131722" stroke-width="1.3"/>
<circle cx="1495" cy="816.5" r="2.2" fill="none" stroke="#131722" stroke-width="1.2"/>

<!-- watermark -->
<text x="1293" y="797" font-size="66" font-style="italic" font-weight="bold" fill="#9a9a9a" opacity="0.55" textLength="236" lengthAdjust="spacingAndGlyphs" font-family="'Noto Sans CJK SC','WenQuanYi Zen Hei',sans-serif">海马财经</text>
<text x="1290" y="794" font-size="66" font-style="italic" font-weight="bold" fill="#fff" stroke="#c8c8c8" stroke-width="1" textLength="236" lengthAdjust="spacingAndGlyphs" font-family="'Noto Sans CJK SC','WenQuanYi Zen Hei',sans-serif">海马财经</text>
<text x="1298" y="828" font-size="32" font-style="italic" font-weight="bold" fill="#6d94e8" textLength="224" lengthAdjust="spacing">zzrt01.cn</text>
</svg>
</body></html>
